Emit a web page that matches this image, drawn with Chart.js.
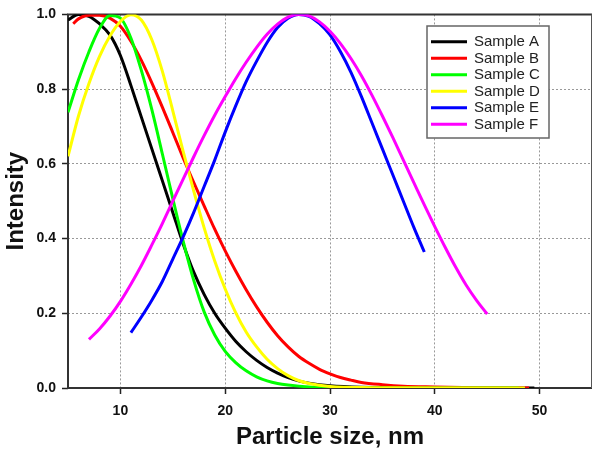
<!DOCTYPE html>
<html>
<head>
<meta charset="utf-8">
<script src="https://cdn.jsdelivr.net/npm/chart.js@4/dist/chart.umd.min.js"></script>
<style>
html,body{margin:0;padding:0;background:#fff;}
#wrap{width:593px;height:453px;}
</style>
</head>
<body>
<div id="wrap"><canvas id="c" width="593" height="453"></canvas></div>
<script>
// ---- data ----
const xTicks = [10, 20, 30, 40, 50];
const yTicks = [0, 0.2, 0.4, 0.6, 0.8, 1.0];
const seriesNames = ['Sample A', 'Sample B', 'Sample C', 'Sample D', 'Sample E', 'Sample F'];

const aX = [5, 6, 7, 8, 9, 10, 11, 12, 13, 14, 15, 16, 17, 18, 19, 20, 21, 22, 23, 24, 25, 26, 27, 28, 30, 33, 37, 42, 49.5];
const aY = [0.985, 1.0, 0.995, 0.975, 0.945, 0.89, 0.81, 0.725, 0.64, 0.555, 0.47, 0.385, 0.31, 0.25, 0.2, 0.16, 0.125, 0.097, 0.074, 0.055, 0.04, 0.028, 0.019, 0.013, 0.006, 0.002, 0.001, 0.0, 0.0];

const bX = [5.5, 6, 7, 8, 9, 10, 11, 12, 13, 14, 15, 16, 17, 18, 19, 20, 21, 22, 23, 24, 25, 26, 27, 28, 29, 30, 31, 32, 33, 35, 37, 40, 44, 49];
const bY = [0.975, 0.988, 0.998, 0.998, 0.99, 0.968, 0.928, 0.877, 0.817, 0.752, 0.684, 0.615, 0.55, 0.487, 0.425, 0.367, 0.313, 0.263, 0.217, 0.176, 0.14, 0.11, 0.085, 0.066, 0.05, 0.038, 0.028, 0.021, 0.015, 0.009, 0.005, 0.003, 0.001, 0.0];

const cX = [5, 6, 7, 8, 9, 10, 11, 12, 13, 14, 15, 16, 17, 18, 19, 20, 21, 22, 23, 24, 25, 26, 28, 31, 36, 48];
const cY = [0.738, 0.825, 0.9, 0.962, 0.997, 0.99, 0.937, 0.85, 0.745, 0.627, 0.507, 0.392, 0.288, 0.203, 0.142, 0.098, 0.068, 0.046, 0.03, 0.019, 0.012, 0.008, 0.003, 0.001, 0.0, 0.0];

const dX = [5, 6, 7, 8, 9, 10, 11, 12, 13, 14, 15, 16, 17, 18, 19, 20, 21, 22, 23, 24, 25, 26, 27, 28, 30, 34, 40, 48.6];
const dY = [0.62, 0.728, 0.815, 0.887, 0.942, 0.981, 0.999, 0.985, 0.932, 0.848, 0.742, 0.632, 0.527, 0.428, 0.34, 0.265, 0.202, 0.15, 0.11, 0.077, 0.052, 0.033, 0.02, 0.012, 0.004, 0.001, 0.0, 0.0];

const eX = [11, 12, 13, 14, 15, 16, 17, 18, 19, 20, 21, 22, 23, 24, 25, 26, 27, 28, 29, 30, 31, 32, 33, 34, 35, 36, 37, 38, 39];
const eY = [0.148, 0.19, 0.235, 0.285, 0.345, 0.405, 0.47, 0.54, 0.61, 0.685, 0.755, 0.82, 0.875, 0.925, 0.965, 0.99, 1.0, 0.995, 0.975, 0.945, 0.9, 0.845, 0.78, 0.71, 0.64, 0.57, 0.5, 0.43, 0.364];

const fX = [7, 8, 9, 10, 11, 12, 13, 14, 15, 16, 17, 18, 19, 20, 21, 22, 23, 24, 25, 26, 27, 28, 29, 30, 31, 32, 33, 34, 35, 36, 37, 38, 39, 40, 41, 42, 43, 44, 45];
const fY = [0.13, 0.158, 0.192, 0.232, 0.278, 0.328, 0.383, 0.44, 0.5, 0.56, 0.619, 0.676, 0.73, 0.78, 0.828, 0.872, 0.912, 0.947, 0.974, 0.993, 1.0, 0.996, 0.98, 0.955, 0.922, 0.882, 0.836, 0.784, 0.728, 0.67, 0.61, 0.55, 0.49, 0.432, 0.376, 0.323, 0.275, 0.234, 0.198];

// ---- styles ----
const seriesColors = ['#000000', '#ff0000', '#00ff00', '#ffff00', '#0000ff', '#ff00ff'];
const FONT = "'Liberation Sans', Arial, Helvetica, sans-serif";

const allX = [aX, bX, cX, dX, eX, fX];
const allY = [aY, bY, cY, dY, eY, fY];

const datasets = seriesNames.map((name, i) => ({
  label: name,
  data: allX[i].map((x, k) => ({ x: x, y: allY[i][k] })),
  borderColor: seriesColors[i],
  backgroundColor: seriesColors[i],
  borderWidth: 3,
  pointRadius: 0,
  fill: false,
  cubicInterpolationMode: 'monotone',
  order: seriesNames.length - 1 - i
}));

const framePlugin = {
  id: 'frame',
  beforeDatasetsDraw(chart) {
    const { ctx, chartArea: a } = chart;
    ctx.save();
    ctx.strokeStyle = '#333';
    ctx.lineWidth = 2;
    ctx.beginPath();
    ctx.moveTo(a.right, a.top);
    ctx.lineTo(a.left, a.top);
    ctx.lineTo(a.left, a.bottom);
    ctx.lineTo(a.right, a.bottom);
    ctx.stroke();
    ctx.strokeStyle = '#555';
    ctx.lineWidth = 1;
    ctx.beginPath();
    ctx.moveTo(a.right - 0.5, a.top);
    ctx.lineTo(a.right - 0.5, a.bottom);
    ctx.stroke();
    ctx.restore();
  }
};

const legendPlugin = {
  id: 'boxLegend',
  afterDraw(chart) {
    const { ctx } = chart;
    const bx = 427, by = 26, bw = 122, bh = 112;
    ctx.save();
    ctx.fillStyle = '#fff';
    ctx.fillRect(bx, by, bw, bh);
    ctx.strokeStyle = '#666';
    ctx.lineWidth = 1.5;
    ctx.strokeRect(bx, by, bw, bh);
    ctx.font = '15px ' + FONT;
    ctx.textBaseline = 'middle';
    ctx.textAlign = 'left';
    chart.data.datasets.forEach((ds, i) => {
      const y = by + 15.7 + i * 16.5;
      ctx.strokeStyle = ds.borderColor;
      ctx.lineWidth = 3;
      ctx.beginPath();
      ctx.moveTo(431, y);
      ctx.lineTo(467, y);
      ctx.stroke();
      ctx.fillStyle = '#222';
      ctx.fillText(ds.label, 474, y + 0.5);
    });
    ctx.restore();
  }
};

new Chart(document.getElementById('c'), {
  type: 'line',
  data: { datasets: datasets },
  plugins: [framePlugin, legendPlugin],
  options: {
    responsive: false,
    animation: false,
    devicePixelRatio: 1,
    layout: { padding: { top: 11, right: 1, bottom: 0, left: 0 } },
    plugins: { legend: { display: false }, tooltip: { enabled: false } },
    scales: {
      x: {
        type: 'linear',
        min: 5,
        max: 55,
        afterBuildTicks(scale) { scale.ticks = xTicks.map(v => ({ value: v })); },
        afterFit(scale) { scale.height = 65; },
        border: { display: false, dash: [2, 2] },
        grid: {
          color: '#999',
          lineWidth: 1,
          drawTicks: true,
          tickLength: 6,
          tickColor: '#222',
          tickWidth: 1.5
        },
        ticks: {
          padding: 9,
          maxRotation: 0,
          color: '#111',
          font: { family: FONT, size: 14, weight: 'bold' },
          callback: v => String(v)
        },
        title: {
          display: true,
          text: 'Particle size, nm',
          color: '#111',
          font: { family: FONT, size: 24, weight: 'bold' },
          padding: { top: 0, bottom: 1 }
        }
      },
      y: {
        type: 'linear',
        min: 0,
        max: 1,
        afterBuildTicks(scale) { scale.ticks = yTicks.map(v => ({ value: v })); },
        afterFit(scale) { scale.width = 68; },
        border: { display: false, dash: [2, 2] },
        grid: {
          color: c => (c.tick && (c.tick.value === 0 || c.tick.value === 1)) ? 'rgba(0,0,0,0)' : '#999',
          lineWidth: 1,
          drawTicks: true,
          tickLength: 6,
          tickColor: '#222',
          tickWidth: 1.5
        },
        ticks: {
          padding: 6,
          color: '#111',
          font: { family: FONT, size: 14, weight: 'bold' },
          callback: v => Number(v).toFixed(1)
        },
        title: {
          display: true,
          text: 'Intensity',
          color: '#111',
          font: { family: FONT, size: 24, weight: 'bold' },
          padding: { top: 2, bottom: 0 }
        }
      }
    }
  }
});
</script>
</body>
</html>
